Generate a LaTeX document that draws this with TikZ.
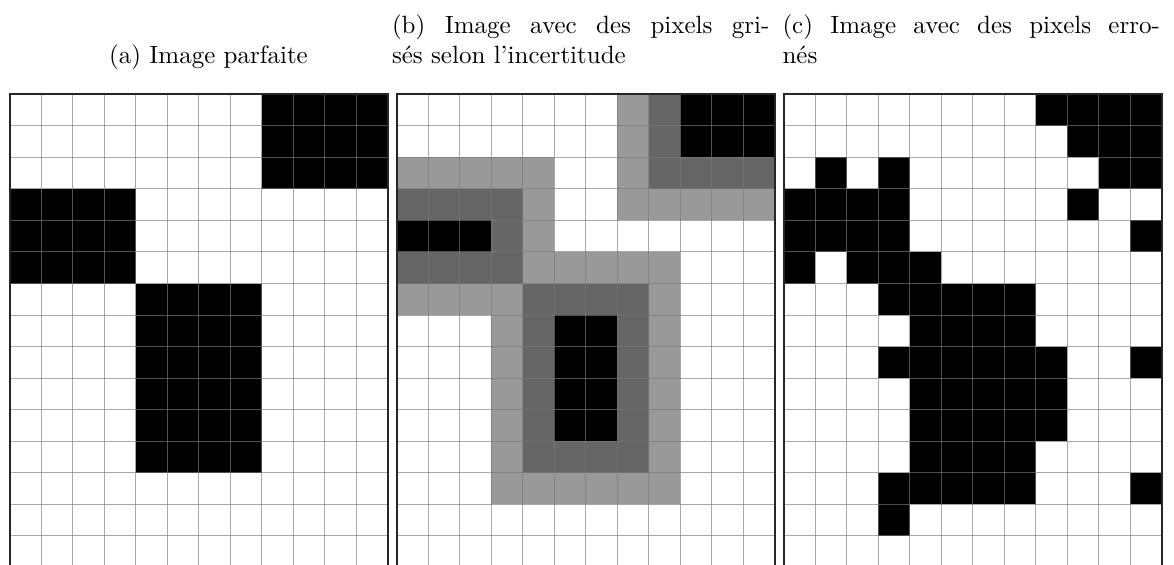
\documentclass[tikz,border=0pt]{standalone}
\usepackage{fontspec}
\usepackage{tikz}
\usetikzlibrary{positioning}
\usepackage{xcolor}
\definecolor{pxblack}{HTML}{000000}
\definecolor{pxdark}{HTML}{666666}
\definecolor{pxlight}{HTML}{999999}
\definecolor{pxline}{HTML}{7A7A7A}
\tikzset{
  gridline/.style={draw=pxline, draw opacity=0.65, line width=0.4pt},
  gridframe/.style={draw=black!85, line width=0.8pt},
  subcap/.style={inner sep=0pt, font=\normalsize}
}
\newcommand{\fullline}[1]{\makebox[151pt][s]{\spaceskip=0pt\xspaceskip=0pt #1}}

\begin{document}
\begin{tikzpicture}[x=0.4pt, y=-0.4pt]
    \clip (0,0) rectangle (1174,565);
    \fill[white] (0,0) rectangle (1174,565);

    % captions
    \node[subcap, anchor=base] (capA) at (208.5,64) {(a) Image parfaite};
    \node[subcap, anchor=base west, text width=151pt, align=left] (capB) at (391.5,34)
          {\fullline{(b) Image avec des pixels gri-}\\sés selon l'incertitude};
    \node[subcap, anchor=base west, text width=151pt, align=left] (capC) at (782,34)
          {\fullline{(c) Image avec des pixels erro-}\\nés};

    % (a) image parfaite
    \begin{scope}[shift={(9.5,94.5)}, x=12.6pt, y=-12.6pt]
      \fill[pxblack] (8,0) rectangle (12,3);
      \fill[pxblack] (0,3) rectangle (4,6);
      \fill[pxblack] (4,6) rectangle (8,12);
      \foreach \c in {1,...,11} \draw[gridline] (\c,0) -- (\c,16);
      \foreach \r in {1,...,15} \draw[gridline] (0,\r) -- (12,\r);
      \draw[gridframe] (0,16) -- (0,0) -- (12,0) -- (12,16);
    \end{scope}

    % (b) pixels grises
    \begin{scope}[shift={(396.5,94.5)}, x=12.6pt, y=-12.6pt]
      \fill[pxlight] (7,0) rectangle (8,4);
      \fill[pxlight] (8,3) rectangle (12,4);
      \fill[pxlight] (0,2) rectangle (5,3);
      \fill[pxlight] (4,3) rectangle (5,6);
      \fill[pxlight] (5,5) rectangle (9,6);
      \fill[pxlight] (8,6) rectangle (9,13);
      \fill[pxlight] (0,6) rectangle (4,7);
      \fill[pxlight] (3,7) rectangle (4,13);
      \fill[pxlight] (4,12) rectangle (8,13);
      \fill[pxdark] (8,0) rectangle (9,3);
      \fill[pxdark] (9,2) rectangle (12,3);
      \fill[pxdark] (0,3) rectangle (4,4);
      \fill[pxdark] (3,4) rectangle (4,5);
      \fill[pxdark] (0,5) rectangle (4,6);
      \fill[pxdark] (4,6) rectangle (8,7);
      \fill[pxdark] (4,7) rectangle (5,12);
      \fill[pxdark] (7,7) rectangle (8,12);
      \fill[pxdark] (5,11) rectangle (7,12);
      \fill[pxblack] (9,0) rectangle (12,2);
      \fill[pxblack] (0,4) rectangle (3,5);
      \fill[pxblack] (5,7) rectangle (7,11);
      \foreach \c in {1,...,11} \draw[gridline] (\c,0) -- (\c,16);
      \foreach \r in {1,...,15} \draw[gridline] (0,\r) -- (12,\r);
      \draw[gridframe] (0,16) -- (0,0) -- (12,0) -- (12,16);
    \end{scope}

    % (c) pixels errones
    \begin{scope}[shift={(783.5,94.5)}, x=12.6pt, y=-12.6pt]
      \fill[pxblack] (8,0) rectangle (12,1);
      \fill[pxblack] (9,1) rectangle (12,2);
      \fill[pxblack] (10,2) rectangle (12,3);
      \fill[pxblack] (1,2) rectangle (2,3);
      \fill[pxblack] (3,2) rectangle (4,3);
      \fill[pxblack] (0,3) rectangle (4,5);
      \fill[pxblack] (9,3) rectangle (10,4);
      \fill[pxblack] (11,4) rectangle (12,5);
      \fill[pxblack] (0,5) rectangle (1,6);
      \fill[pxblack] (2,5) rectangle (5,6);
      \fill[pxblack] (3,6) rectangle (8,7);
      \fill[pxblack] (4,7) rectangle (8,8);
      \fill[pxblack] (3,8) rectangle (9,9);
      \fill[pxblack] (11,8) rectangle (12,9);
      \fill[pxblack] (4,9) rectangle (9,11);
      \fill[pxblack] (4,11) rectangle (8,12);
      \fill[pxblack] (3,12) rectangle (8,13);
      \fill[pxblack] (11,12) rectangle (12,13);
      \fill[pxblack] (3,13) rectangle (4,14);
      \foreach \c in {1,...,11} \draw[gridline] (\c,0) -- (\c,16);
      \foreach \r in {1,...,15} \draw[gridline] (0,\r) -- (12,\r);
      \draw[gridframe] (0,16) -- (0,0) -- (12,0) -- (12,16);
    \end{scope}
  \end{tikzpicture}
\end{document}
